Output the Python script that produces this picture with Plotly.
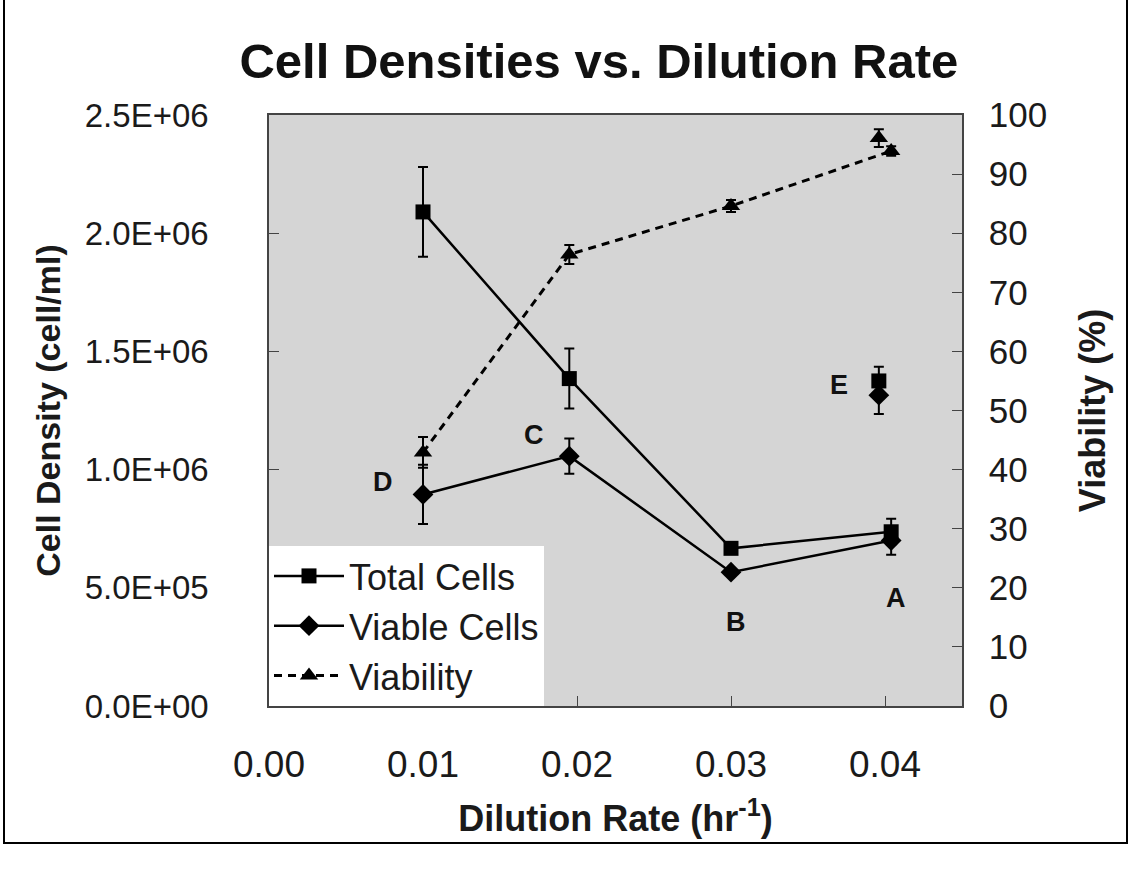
import plotly.graph_objects as go

# ---------------- data ----------------
dilution = [0.0100, 0.0195, 0.0300, 0.0404]
total_cells = [2.09e6, 1.385e6, 0.667e6, 0.737e6]
total_err = [0.19e6, 0.127e6, 0.015e6, 0.055e6]
viable_cells = [0.895e6, 1.057e6, 0.566e6, 0.700e6]
viable_err = [0.125e6, 0.075e6, 0.010e6, 0.060e6]
viability = [42.9, 76.4, 84.6, 93.9]
viability_err = [2.6, 1.6, 1.0, 0.8]

# separate point "E" (not connected)
e_dilution = [0.0396]
e_total = [1.375e6]
e_total_err = [0.06e6]
e_viable = [1.315e6]
e_viable_err = [0.08e6]
e_viability = [96.1]
e_viability_err = [1.5]

point_labels = ["A", "B", "C", "D", "E"]
label_x = [0.0407, 0.0303, 0.0172, 0.0074, 0.0370]
label_y = [0.457e6, 0.355e6, 1.146e6, 0.948e6, 1.358e6]

x_ticks = [0.00, 0.01, 0.02, 0.03, 0.04]
x_ticktext = ["0.00", "0.01", "0.02", "0.03", "0.04"]
y_ticks = [0, 0.5e6, 1.0e6, 1.5e6, 2.0e6, 2.5e6]
y_ticktext = ["0.0E+00", "5.0E+05", "1.0E+06", "1.5E+06", "2.0E+06", "2.5E+06"]
y2_ticks = [0, 10, 20, 30, 40, 50, 60, 70, 80, 90, 100]

FONT = "Liberation Sans, Arial, sans-serif"

def err(arr, cap=5):
    return dict(type="data", array=arr, visible=True, color="black", thickness=2, width=cap)

fig = go.Figure()

fig.add_trace(go.Scatter(
    x=dilution, y=total_cells, name="Total Cells", mode="lines+markers",
    line=dict(color="black", width=2.5),
    marker=dict(symbol="square", size=15, color="black"),
    error_y=err(total_err)))
fig.add_trace(go.Scatter(
    x=dilution, y=viable_cells, name="Viable Cells", mode="lines+markers",
    line=dict(color="black", width=2.5),
    marker=dict(symbol="diamond", size=16, color="black"),
    error_y=err(viable_err)))
fig.add_trace(go.Scatter(
    x=dilution, y=viability, name="Viability", mode="lines+markers", yaxis="y2",
    line=dict(color="black", width=3, dash="8px,6px"),
    marker=dict(symbol="triangle-up", size=16, color="black"),
    error_y=err(viability_err)))

# point E
fig.add_trace(go.Scatter(
    x=e_dilution, y=e_total, mode="markers", showlegend=False,
    marker=dict(symbol="square", size=15, color="black"), error_y=err(e_total_err)))
fig.add_trace(go.Scatter(
    x=e_dilution, y=e_viable, mode="markers", showlegend=False,
    marker=dict(symbol="diamond", size=16, color="black"), error_y=err(e_viable_err)))
fig.add_trace(go.Scatter(
    x=e_dilution, y=e_viability, mode="markers", showlegend=False, yaxis="y2",
    marker=dict(symbol="triangle-up", size=16, color="black"), error_y=err(e_viability_err)))

for t, lx, ly in zip(point_labels, label_x, label_y):
    fig.add_annotation(x=lx, y=ly, xref="x", yref="y", text="<b>%s</b>" % t,
                       showarrow=False, font=dict(family=FONT, size=27, color="#111"))

axis_common = dict(showline=True, linecolor="#444", linewidth=1.5,
                   ticks="inside", ticklen=10, tickcolor="#444", showgrid=False,
                   zeroline=False)

fig.update_layout(
    width=1130, height=875,
    margin=dict(l=269, r=168, t=115, b=169),
    paper_bgcolor="white", plot_bgcolor="#d5d5d5",
    font=dict(family=FONT, size=35, color="#1a1a1a"),
    title=dict(text="<b>Cell Densities vs. Dilution Rate</b>", x=0.476, xref="paper",
               xanchor="center", y=0.931, yanchor="middle",
               font=dict(family=FONT, size=49, color="#111")),
    xaxis=dict(range=[0, 0.045], tickvals=x_ticks, ticktext=x_ticktext,
               ticklabelstandoff=25, mirror=True, tickfont=dict(size=37),
               title=dict(text="<b>Dilution Rate (hr<sup>-1</sup>)</b>", standoff=22,
                          font=dict(family=FONT, size=36)),
               **axis_common),
    yaxis=dict(range=[0, 2.5e6], tickvals=y_ticks, ticktext=y_ticktext,
               ticklabelstandoff=52, tickfont=dict(size=33),
               title=dict(text="<b>Cell Density (cell/ml)</b>", standoff=14,
                          font=dict(family=FONT, size=34)),
               **axis_common),
    yaxis2=dict(range=[0, 100], tickvals=y2_ticks, overlaying="y", side="right",
                ticklabelstandoff=18,
                title=dict(text="<b>Viability (%)</b>", standoff=34,
                           font=dict(family=FONT, size=36)),
                **axis_common),
    legend=dict(x=0.0, y=0.0, xanchor="left", yanchor="bottom", bgcolor="white",
                font=dict(family=FONT, size=36), borderwidth=0, itemwidth=70,
                tracegroupgap=0),
    showlegend=True,
)

# outer chart border (frame around the whole chart)
fig.add_shape(type="rect", xref="paper", yref="paper",
              x0=(4 - 269) / 693, x1=(1127 - 269) / 693,
              y0=(706 - 843) / 591, y1=(706 + 2) / 591 + 0.2,
              line=dict(color="black", width=2), fillcolor="rgba(0,0,0,0)", layer="below")

fig.write_html("out.html")
